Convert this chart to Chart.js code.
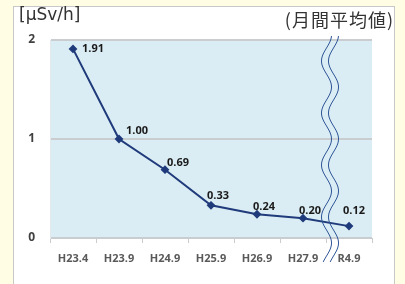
<!DOCTYPE html>
<html>
<head>
<meta charset="utf-8">
<script src="https://cdn.jsdelivr.net/npm/chart.js@4"></script>
<style>
  html, body { margin: 0; padding: 0; width: 405px; height: 284px; overflow: hidden; background: #FFFDE3; }
  #panel { position: absolute; left: 13px; top: 6px; width: 380px; height: 290px; background: #fff; border: 1px solid #c8c8c8; }
  #chart { position: absolute; left: 0; top: 0; }
</style>
</head>
<body>
<div id="panel"></div>
<canvas id="chart" width="405" height="284"></canvas>
<script>
// ===== data =====
const categories = ['H23.4', 'H23.9', 'H24.9', 'H25.9', 'H26.9', 'H27.9', 'R4.9'];
const doseRate = [1.91, 1.00, 0.69, 0.33, 0.24, 0.20, 0.12];
const yTicks = [0, 1, 2];
const unitLabel = '[μSv/h]';
const noteLabel = '(月間平均値)';

const colors = {
    line: '#1F3B7B',
    plotBg: '#DBEDF4',
    grid: '#C9CDD0',
    tick: '#595959',
    text: '#333333',
    wave: '#2F5597',
};

// label nudges (dx, dy from the point), like the hand-moved labels in the original
const labelNudge = [[20, 0], [18, -8], [13, -7], [7, -9], [7, -7], [7, -7], [5, -15]];

// light blue plot area + titles
const backdrop = {
    id: 'backdrop',
    beforeDraw(chart) {
        const { ctx, chartArea: a } = chart;
        ctx.save();
        ctx.fillStyle = colors.plotBg;
        ctx.fillRect(a.left, a.top, a.right - a.left, a.bottom - a.top);
        ctx.fillStyle = colors.text;
        ctx.textBaseline = 'middle';
        ctx.textAlign = 'left';
        ctx.font = "17px 'DejaVu Sans'";
        ctx.fillText(unitLabel, 19, 16);
        ctx.textAlign = 'right';
        ctx.font = "18px 'Noto Sans CJK JP'";
        ctx.letterSpacing = '1px';
        ctx.fillText(noteLabel, 394, 20);
        ctx.restore();
    }
};

// value labels next to each point
const valueLabels = {
    id: 'valueLabels',
    afterDatasetsDraw(chart) {
        const { ctx } = chart;
        const meta = chart.getDatasetMeta(0);
        ctx.save();
        ctx.font = "bold 11px 'Open Sans', sans-serif";
        ctx.fillStyle = '#1a1a1a';
        ctx.textBaseline = 'middle';
        ctx.textAlign = 'center';
        meta.data.forEach((pt, i) => {
            const [dx, dy] = labelNudge[i] || [7, -8];
            ctx.fillText(doseRate[i].toFixed(2), pt.x + dx, pt.y + dy);
        });
        ctx.restore();
    }
};

// double wavy break mark between the last two categories
const breakMark = {
    id: 'breakMark',
    afterDraw(chart) {
        const { ctx, scales } = chart;
        const n = categories.length;
        const cx = (scales.x.getPixelForValue(n - 2) + scales.x.getPixelForValue(n - 1)) / 2 + 4;
        const y0 = 36, y1 = 262, amp = 5, period = 52;
        ctx.save();
        ctx.strokeStyle = colors.wave;
        ctx.lineWidth = 1;
        [-3.5, 3.5].forEach(off => {
            ctx.beginPath();
            for (let y = y0; y <= y1; y++) {
                const x = cx + off + amp * Math.sin((y - 48) * 2 * Math.PI / period + Math.PI);
                if (y === y0) ctx.moveTo(x, y); else ctx.lineTo(x, y);
            }
            ctx.stroke();
        });
        ctx.restore();
    }
};

new Chart(document.getElementById('chart'), {
    type: 'line',
    data: {
        labels: categories,
        datasets: [{
            data: doseRate,
            borderColor: colors.line,
            backgroundColor: colors.line,
            borderWidth: 2,
            pointStyle: 'rectRot',
            pointRadius: 3,
            tension: 0,
        }]
    },
    options: {
        responsive: false,
        animation: false,
        layout: { padding: { left: 20, right: 33, top: 40, bottom: 0 } },
        plugins: {
            legend: { display: false },
            tooltip: { enabled: false },
        },
        scales: {
            x: {
                offset: true,
                grid: {
                    offset: true,
                    drawOnChartArea: false,
                    drawTicks: true,
                    tickLength: 5,
                    color: colors.grid,
                },
                border: { color: colors.grid, width: 1 },
                ticks: {
                    color: colors.tick,
                    padding: 9,
                    font: { family: "'Open Sans', sans-serif", size: 11, weight: 'bold' },
                    maxRotation: 0,
                },
                afterFit: (s) => { s.height = 46; },
            },
            y: {
                min: 0,
                max: 2,
                afterBuildTicks: (s) => { s.ticks = yTicks.map(v => ({ value: v })); },
                grid: { color: colors.grid, lineWidth: 2, drawTicks: false },
                border: { color: '#E4E8EA', width: 1 },
                ticks: {
                    color: '#404040',
                    padding: 15,
                    font: { family: "'Open Sans', sans-serif", size: 12, weight: 'bold' },
                },
                afterFit: (s) => { s.width = 30; },
            }
        }
    },
    plugins: [backdrop, valueLabels, breakMark]
});
</script>
</body>
</html>
